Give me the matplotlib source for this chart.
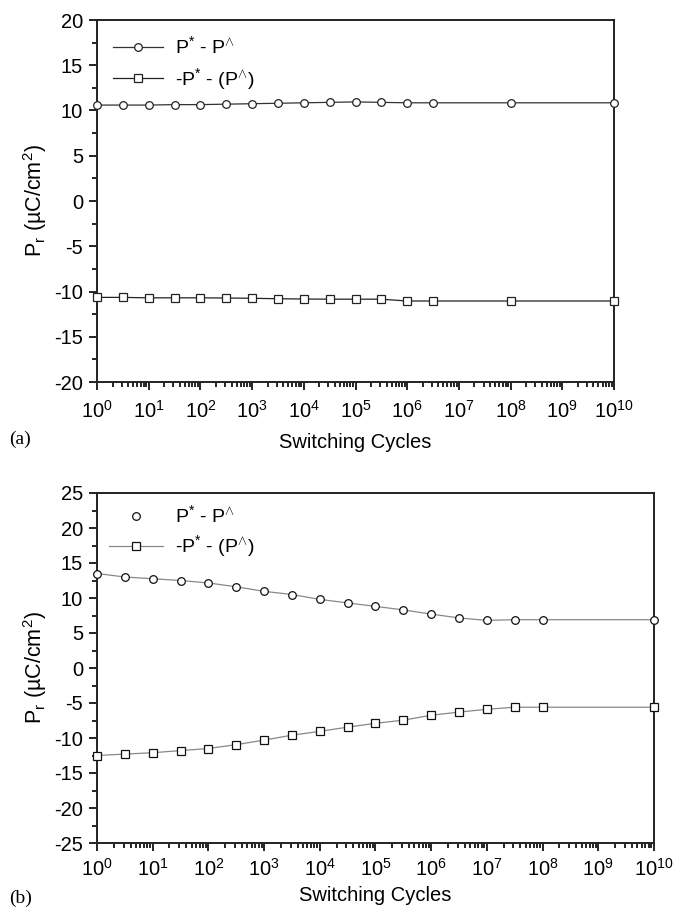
import numpy as np
import matplotlib
matplotlib.use("Agg")
import matplotlib.pyplot as plt
from matplotlib.ticker import MultipleLocator, LogLocator, NullFormatter
from matplotlib.lines import Line2D

plt.rcParams['font.family'] = ['Liberation Sans', 'DejaVu Sans']
plt.rcParams['mathtext.fontset'] = 'custom'
plt.rcParams['mathtext.rm'] = 'Liberation Sans'
plt.rcParams['mathtext.it'] = 'Liberation Sans:italic'
plt.rcParams['mathtext.bf'] = 'Liberation Sans:bold'
plt.rcParams['axes.unicode_minus'] = False

# ---- data: panel (a)
a_cycles = [1e0, 10**0.5, 1e1, 10**1.5, 1e2, 10**2.5, 1e3, 10**3.5, 1e4, 10**4.5,
            1e5, 10**5.5, 1e6, 10**6.5, 1e8, 1e10]
a_pos = [10.6, 10.6, 10.6, 10.65, 10.65, 10.7, 10.75, 10.8, 10.85, 10.9,
         10.95, 10.9, 10.85, 10.85, 10.85, 10.85]
a_neg = [-10.65, -10.65, -10.7, -10.7, -10.7, -10.72, -10.75, -10.8, -10.83, -10.85,
         -10.85, -10.85, -11.05, -11.05, -11.05, -11.05]

# ---- data: panel (b)
b_cycles = [1e0, 10**0.5, 1e1, 10**1.5, 1e2, 10**2.5, 1e3, 10**3.5, 1e4, 10**4.5,
            1e5, 10**5.5, 1e6, 10**6.5, 1e7, 10**7.5, 1e8, 1e10]
b_pos = [13.5, 13.0, 12.75, 12.5, 12.15, 11.6, 10.95, 10.5, 9.8, 9.3,
         8.8, 8.3, 7.7, 7.15, 6.8, 6.9, 6.9, 6.9]
b_neg = [-12.5, -12.3, -12.1, -11.8, -11.5, -10.95, -10.3, -9.6, -9.05, -8.45,
         -7.9, -7.45, -6.75, -6.3, -5.9, -5.6, -5.6, -5.6]

label_pos = r'P$^{*}$ - P$^{\wedge}$'
label_neg = r'-P$^{*}$ - (P$^{\wedge}$)'
xlabel = 'Switching Cycles'
ylabel = r'P$_\mathregular{r}$ (µC/cm$^\mathregular{2}$)'

W, H = 675, 913
fig = plt.figure(figsize=(W/100, H/100), dpi=100)

def px_axes(l, r, t, b):
    return fig.add_axes([l/W, 1 - b/H, (r-l)/W, (b-t)/H])

ax1 = px_axes(97, 614, 20, 382)
ax2 = px_axes(97, 654, 493, 843)

FS = 14.5
LFS = 14
ms = 5.5

def style(ax, ylo, yhi, xpad, lpad):
    ax.set_xscale('log')
    ax.set_xlim(1, 1e10)
    ax.set_ylim(ylo, yhi)
    ax.yaxis.set_major_locator(MultipleLocator(5))
    ax.yaxis.set_minor_locator(MultipleLocator(2.5))
    ax.xaxis.set_major_locator(LogLocator(base=10, numticks=20))
    ax.xaxis.set_minor_locator(LogLocator(base=10, subs=np.arange(2, 10), numticks=200))
    ax.xaxis.set_minor_formatter(NullFormatter())
    ax.tick_params(which='both', direction='out', top=False, right=False, labelsize=FS, width=1.2)
    ax.tick_params(which='major', length=6)
    ax.tick_params(which='minor', length=3.5)
    ax.tick_params(axis='x', which='major', pad=xpad)
    ax.tick_params(axis='y', which='major', pad=4)
    for s in ax.spines.values():
        s.set_linewidth(1.4)
        s.set_color('#222222')
    ax.set_xlabel(xlabel, fontsize=FS, labelpad=lpad)
    ax.set_ylabel(ylabel, fontsize=15.5, labelpad=4)

# panel (a)
ax1.plot(a_cycles, a_pos, '-', color='#333333', lw=0.9, marker='o', ms=ms,
         mfc='white', mec='#222222', mew=0.9, label=label_pos, clip_on=False, zorder=3)
ax1.plot(a_cycles, a_neg, '-', color='#222222', lw=0.9, marker='s', ms=ms,
         mfc='white', mec='#222222', mew=0.9, label=label_neg, clip_on=False, zorder=3)
style(ax1, -20, 20, 7, 8)
ax1.legend(loc='upper left', frameon=False, fontsize=LFS, handlelength=2.6,
           handletextpad=0.6, borderaxespad=0.4, labelspacing=0.45)

# panel (b)
ax2.plot(b_cycles, b_pos, '-', color='#888888', lw=0.9, marker='o', ms=ms,
         mfc='white', mec='#111111', mew=0.9, clip_on=False, zorder=3)
ax2.plot(b_cycles, b_neg, '-', color='#888888', lw=0.9, marker='s', ms=ms,
         mfc='white', mec='#111111', mew=0.9, clip_on=False, zorder=3)
style(ax2, -25, 25, 5, 4)
h1 = Line2D([], [], ls='none', marker='o', ms=ms, mfc='white', mec='#111111', mew=0.9)
h2 = Line2D([], [], ls='-', color='#888888', lw=0.9, marker='s', ms=ms, mfc='white', mec='#111111', mew=0.9)
ax2.legend([h1, h2], [label_pos, label_neg], loc='upper left', frameon=False, fontsize=LFS,
           handlelength=2.8, handletextpad=0.6, borderaxespad=0.2, labelspacing=0.35)

fig.text(9/W, 1 - 439/H, '(a)', family=['Liberation Serif'], fontsize=14, va='center')
fig.text(9/W, 1 - 898/H, '(b)', family=['Liberation Serif'], fontsize=14, va='center')

fig.savefig('out.png', dpi=100)
